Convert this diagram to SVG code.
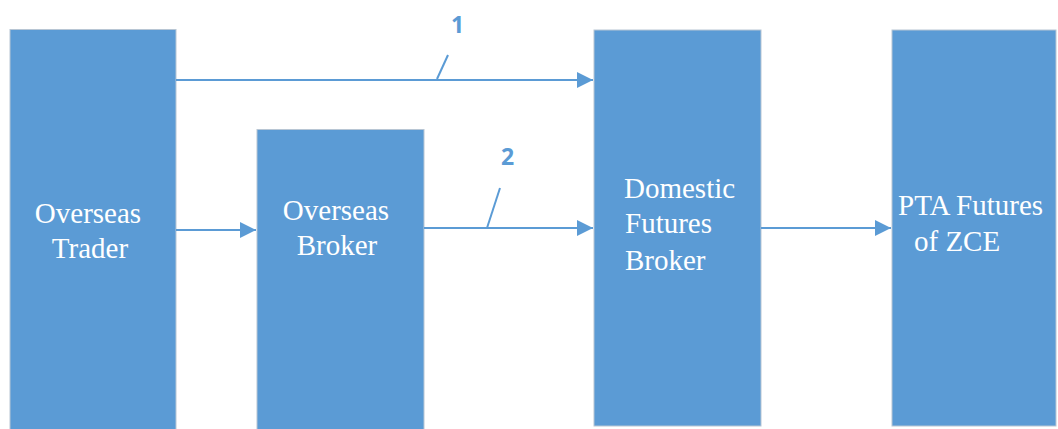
<svg xmlns="http://www.w3.org/2000/svg" width="1058" height="429" viewBox="0 0 1058 429">
  <style>
    .box { fill: #5B9BD5; stroke: #b8c6d4; stroke-width: 1; }
    text.lbl { font-family: "Liberation Serif", "Times New Roman", Tinos, "DejaVu Serif", "Noto Serif", serif; font-size: 29px; fill: #ffffff; }
    text.num { font-family: "Open Sans", "DejaVu Sans", sans-serif; font-size: 23px; font-weight: bold; fill: #5B9BD5; }
    .line { stroke: #5B9BD5; stroke-width: 2; fill: none; }
  </style>
  <defs>
    <marker id="arrow" viewBox="0 0 16 16" refX="16" refY="8" markerWidth="16" markerHeight="16" markerUnits="userSpaceOnUse" orient="auto">
      <path d="M0,0 L16,8 L0,16 Z" fill="#5B9BD5"/>
    </marker>
  </defs>
  <rect width="1058" height="429" fill="#ffffff"/>

  <g id="overseas-trader">
    <rect class="box" x="10" y="29.5" width="166" height="410"/>
    <text class="lbl" font-family="Liberation Serif" x="88" y="223" text-anchor="middle">Overseas</text>
    <text class="lbl" font-family="Liberation Serif" x="90" y="258" text-anchor="middle">Trader</text>
  </g>

  <g id="overseas-broker">
    <rect class="box" x="257" y="129.5" width="167" height="310"/>
    <text class="lbl" font-family="Liberation Serif" x="336" y="220" text-anchor="middle">Overseas</text>
    <text class="lbl" font-family="Liberation Serif" x="337" y="255" text-anchor="middle">Broker</text>
  </g>

  <g id="domestic-broker">
    <rect class="box" x="594" y="30" width="167" height="396"/>
    <text class="lbl" font-family="Liberation Serif" x="624" y="198">Domestic</text>
    <text class="lbl" font-family="Liberation Serif" x="625" y="233">Futures</text>
    <text class="lbl" font-family="Liberation Serif" x="625" y="270">Broker</text>
  </g>

  <g id="pta-futures">
    <rect class="box" x="892" y="30" width="164" height="396"/>
    <text class="lbl" font-family="Liberation Serif" x="898" y="215">PTA Futures</text>
    <text class="lbl" font-family="Liberation Serif" x="914" y="251">of ZCE</text>
  </g>

  <g id="connectors">
    <!-- route 1: trader straight to the domestic broker -->
    <line class="line" x1="176" y1="80" x2="593" y2="80" marker-end="url(#arrow)"/>
    <line class="line" x1="437" y1="79" x2="448" y2="55"/>
    <text class="num" x="451" y="33">1</text>
    <!-- route 2: trader via the overseas broker -->
    <line class="line" x1="176" y1="230" x2="256" y2="230" marker-end="url(#arrow)"/>
    <line class="line" x1="424" y1="228" x2="593" y2="228" marker-end="url(#arrow)"/>
    <line class="line" x1="487" y1="228" x2="500" y2="188"/>
    <text class="num" x="501" y="165">2</text>
    <!-- domestic broker to the exchange -->
    <line class="line" x1="761" y1="228" x2="891" y2="228" marker-end="url(#arrow)"/>
  </g>
</svg>
